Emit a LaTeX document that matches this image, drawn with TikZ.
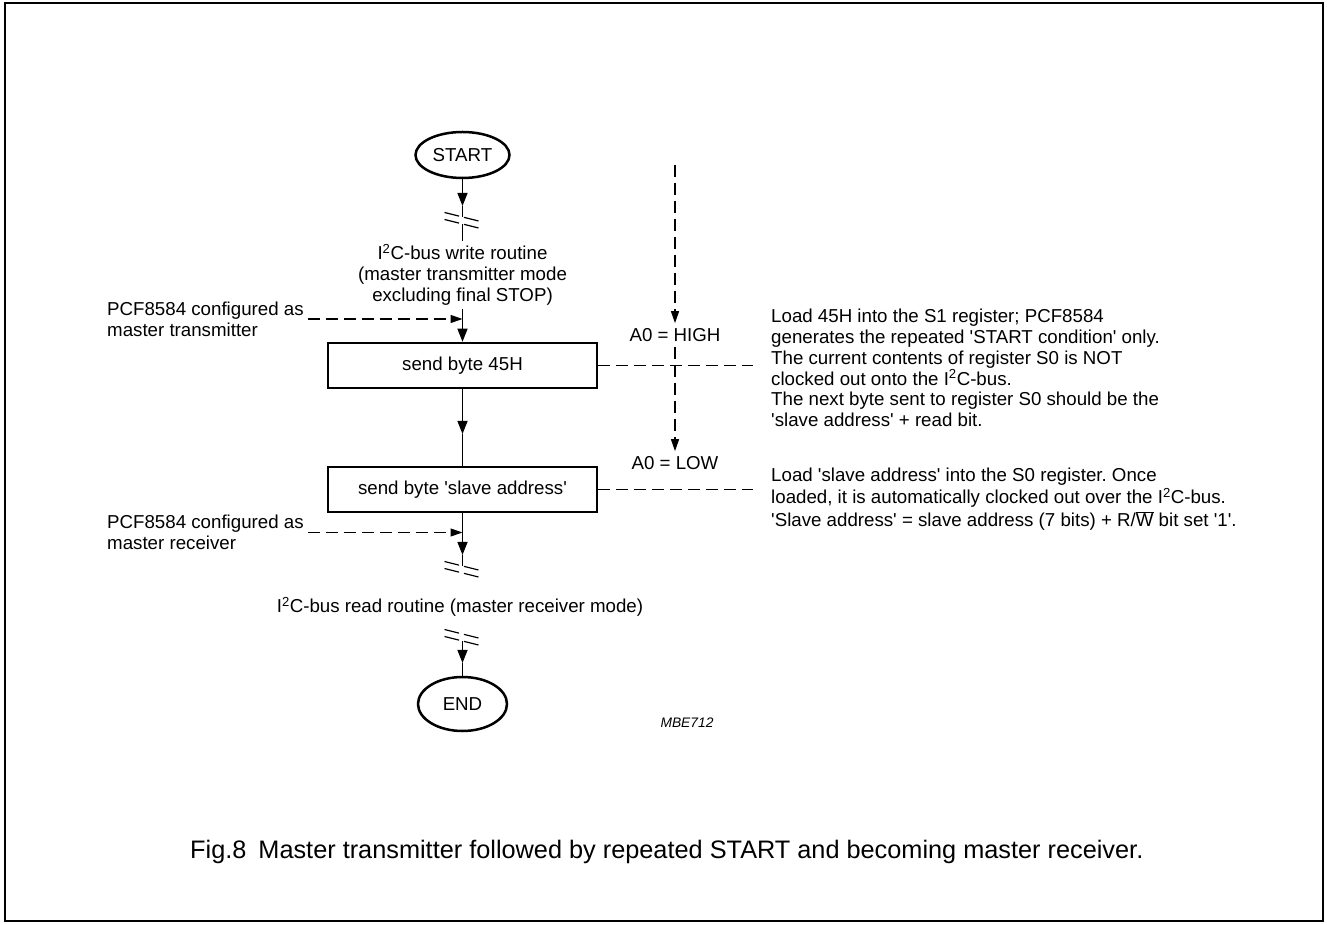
\documentclass[tikz,border=0pt]{standalone}
\usepackage{fontspec}
\newfontfamily\arialfont{Liberation Sans}
\usetikzlibrary{shapes.geometric,arrows.meta}
\newcommand\q{\textquotesingle}
\newcommand\brkmark[1]{\draw[brkline,shift={(#1)}] (-18,4.5) -- (18,-4.5) (-18,-2.5) -- (18,-11.5);}
\tikzset{
  flow/.style={draw=drawColor,line width=1.4pt},
  flowarrow/.style={flow,-{Triangle[width=10pt,length=13pt]}},
  dashline/.style={draw=drawColor,line width=1.2pt,dash pattern=on 12pt off 6pt},
  dasharrow/.style={dashline,-{Triangle[width=8pt,length=12pt]}},
  brkline/.style={draw=drawColor,line width=1.2pt,dash pattern=on 15pt off 5pt},
  stepbox/.style={draw=drawColor,line width=2.5pt,minimum width=269pt,minimum height=45pt},
  terminal/.style={ellipse,draw=drawColor,line width=2.5pt},
  cond/.style={inner sep=5pt},
  note/.style={anchor=west,align=left}
}
\frenchspacing
\begin{document}
\begin{tikzpicture}[x=1pt,y=1pt,every node/.style={font=\arialfont\fontsize{18.7}{21}\selectfont,inner sep=0pt,text=drawColor}]
\definecolor{drawColor}{RGB}{0,0,0}
\path[use as bounding box,fill=white] (0,0) rectangle (1327,924);
\draw[drawColor,line width=2pt] (5,3) rectangle (1323,921);

\node[terminal,minimum width=94pt,minimum height=46pt] (start) at (462.5,769) {START};
\coordinate (t1) at (462.5,718);
\coordinate (b1) at (462.5,707);
\node[align=center,inner sep=3pt] (wr) at (462.5,649) {I\textsuperscript{2}C-bus write routine\\(master transmitter mode\\excluding final STOP)};
\node[stepbox] (box1) at (462.5,558.5) {send byte 45H};
\coordinate (t2) at (462.5,490);
\node[stepbox] (box2) at (462.5,434.5) {send byte \q slave address\q};
\coordinate (t3) at (462.5,369);
\coordinate (b2) at (462.5,358);
\node (rd) at (460,317) {I\textsuperscript{2}C-bus read routine (master receiver mode)};
\coordinate (b3) at (462.5,290);
\coordinate (t4) at (462.5,261);
\node[terminal,minimum width=89pt,minimum height=54pt] (stop) at (462.5,220) {END};

\draw[flowarrow] (start.south) -- (t1);
\draw[flow] (t1) -- (b1);
\brkmark{b1}
\draw[flow] ([yshift=-7pt]b1) -- (wr.north);
\draw[flowarrow] (wr.south) -- (box1.north);
\draw[flowarrow] (box1.south) -- (t2);
\draw[flow] (t2) -- (box2.north);
\draw[flowarrow] (box2.south) -- (t3);
\draw[flow] (t3) -- (b2);
\brkmark{b2}
\brkmark{b3}
\draw[flowarrow] ([yshift=-7pt]b3) -- (t4);
\draw[flow] (t4) -- (stop.north);

\node[note] (mtx) at (107,605) {PCF8584 configured as\\master transmitter};
\node[note] (mrx) at (107,391.5) {PCF8584 configured as\\master receiver};
\draw[dasharrow] ([xshift=4pt]mtx.east) -- (mtx.east -| box1.north);
\draw[dasharrow] ([xshift=4pt]mrx.east) -- (mrx.east -| box2.south);

\coordinate (a0top) at (675,759);
\node[cond] (high) at (675,589) {A0 = HIGH};
\node[cond] (low) at (675,461) {A0 = LOW};
\draw[dasharrow] (a0top) -- (high.north);
\draw[dasharrow] (high.south) -- (low.north);
\coordinate (hiend) at (753,558.5);
\coordinate (loend) at (753,434.5);
\draw[dashline] (box1.east) -- (hiend);
\draw[dashline] (box2.east) -- (loend);

\node[note,font=\arialfont\fontsize{18.7}{20.8}\selectfont] (note1) at (771,556) {Load 45H into the S1 register; PCF8584\\generates the repeated \q START condition\q{} only.\\The current contents of register S0 is NOT\\clocked out onto the I\textsuperscript{2}C-bus.\\The next byte sent to register S0 should be the\\\q slave address\q{} + read bit.};
\node[note,font=\arialfont\fontsize{18.7}{22}\selectfont] (note2) at (771,425) {Load \q slave address\q{} into the S0 register. Once\\loaded, it is automatically clocked out over the I\textsuperscript{2}C-bus.\\[1pt]\q Slave address\q{} = slave address (7 bits) + R/$\overline{\mbox{W}}$ bit set \q 1\q.};

\node[font=\arialfont\itshape\fontsize{13.8}{16}\selectfont] (code) at (687,201) {MBE712};
\node[anchor=base west,font=\arialfont\fontsize{25.3}{28}\selectfont] (cap) at (190,66) {Fig.8\hspace{12pt}Master transmitter followed by repeated START and becoming master receiver.};
\end{tikzpicture}
\end{document}
